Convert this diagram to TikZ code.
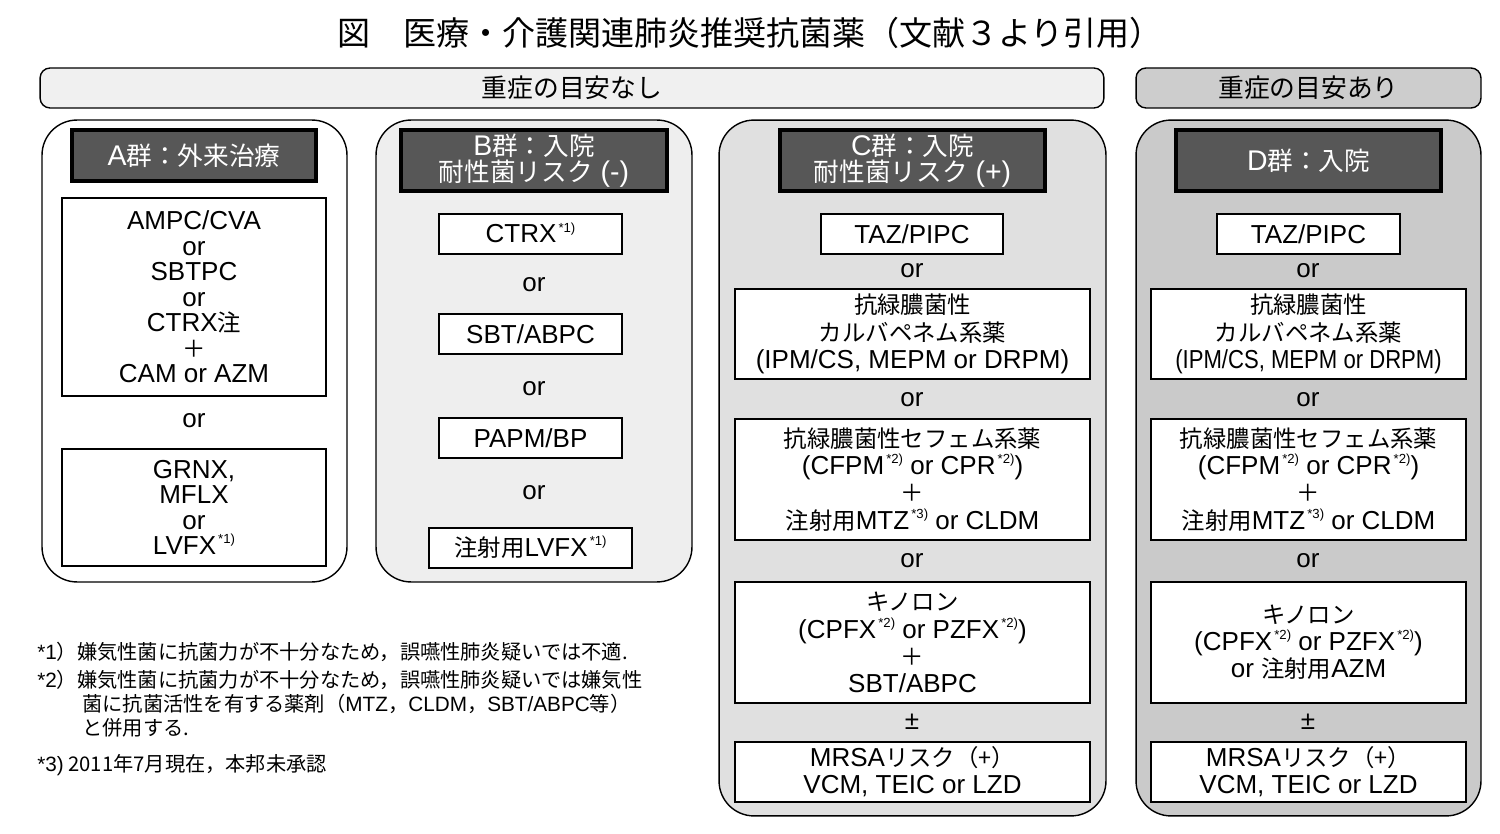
\documentclass[tikz,border=0pt]{standalone}
\usepackage{fontspec}
\usepackage{graphicx}
\setmainfont{Liberation Sans}
\newfontfamily\jp[Scale=0.9]{Noto Sans CJK JP}
\newcommand\J[1]{{\jp #1}}
\newcommand\Lt[1]{{\rmfamily #1}}
\newcommand\sups[1]{\kern0.08em\smash{\raisebox{0.42em}{\fontsize{7.5}{8}\selectfont #1}}}
\definecolor{barA}{HTML}{F0F0F0}
\definecolor{barB}{HTML}{CDCDCD}
\definecolor{grpB}{HTML}{EEEEEE}
\definecolor{grpC}{HTML}{E0E0E0}
\definecolor{grpD}{HTML}{CACACA}
\definecolor{hdrgray}{HTML}{575757}
\tikzset{
  grp/.style={draw=black, line width=0.8pt, rounded corners=0.7cm, inner sep=0pt},
  hdr/.style={draw=black, line width=1.8pt, fill=hdrgray, text=white, align=center, inner sep=0pt,
              font=\fontsize{16.2}{14.8}\selectfont},
  drug/.style={draw=black, line width=0.7pt, fill=white, align=center, inner sep=0pt,
              font=\fontsize{14.8}{15.5}\selectfont},
  drugA/.style={drug, font=\fontsize{14.8}{14.5}\selectfont},
  ortxt/.style={inner sep=0pt, font=\fontsize{14.8}{15}\selectfont},
  bar/.style={draw=black, line width=0.8pt, rounded corners=0.2cm, inner sep=0pt,
              font=\fontsize{16.3}{16}\selectfont},
  note/.style={inner sep=0pt, anchor=west, font=\fontsize{12.8}{13}\selectfont\jp}
}
\begin{document}
\begin{tikzpicture}[x=0.02cm,y=-0.02cm]
\useasboundingbox[fill=white] (0,0) rectangle (1500,834);

% title
\node[inner sep=0pt, font=\fontsize{20.9}{20}\selectfont\jp] (title) at (750,33)
  {図　医療・介護関連肺炎推奨抗菌薬（文献３より引用）};

% top bars
\node[bar, fill=barA, minimum width=21.28cm, minimum height=0.8cm] (bar1) at (572,88) {};
\node[inner sep=0pt, font=\fontsize{16.3}{16}\selectfont\jp] (bar1t) at (572,88) {重症の目安なし};
\node[bar, fill=barB, minimum width=6.9cm, minimum height=0.8cm] (bar2) at (1308.5,88) {};
\node[inner sep=0pt, font=\fontsize{16.3}{16}\selectfont\jp] (bar2t) at (1308.5,88) {重症の目安あり};

% groups
\node[grp, fill=white, minimum width=6.1cm, minimum height=9.24cm] (gA) at (194.5,351) {};
\node[grp, fill=grpB, minimum width=6.32cm, minimum height=9.24cm] (gB) at (534,351) {};
\node[grp, fill=grpC, minimum width=7.74cm, minimum height=13.92cm] (gC) at (912.5,468) {};
\node[grp, fill=grpD, minimum width=6.9cm, minimum height=13.92cm] (gD) at (1308.5,468) {};

% headers
\node[hdr, minimum width=4.88cm, minimum height=1.02cm] (hA) at (194,155.5) {A\J{群：外来治療}};
\node[hdr, minimum width=5.32cm, minimum height=1.22cm] (hB) at (534,160.5) {B\J{群：入院}\\\J{耐性菌リスク} (-)};
\node[hdr, minimum width=5.3cm, minimum height=1.22cm] (hC) at (912.5,160.5) {C\J{群：入院}\\\J{耐性菌リスク} (+)};
\node[hdr, minimum width=5.3cm, minimum height=1.22cm] (hD) at (1308.5,160.5) {D\J{群：入院}};

% group A
\node[drugA, minimum width=5.28cm, minimum height=3.96cm] (a1) at (194,297)
  {AMPC/CVA\\or\\SBTPC\\or\\CTRX\J{注}\\\J{＋}\\CAM or AZM};
\node[ortxt] (orA) at (194,421) {or};
\node[drugA, minimum width=5.28cm, minimum height=2.34cm] (a2) at (194,507.5)
  {GRNX,\\MFLX\\or\\LVFX\sups{*1)}};

% group B
\node[drug, minimum width=3.66cm, minimum height=0.8cm] (b1) at (530.5,234) {CTRX\sups{*1)}};
\node[ortxt] (orB1) at (534,285) {or};
\node[drug, minimum width=3.66cm, minimum height=0.8cm] (b2) at (530.5,334) {SBT/ABPC};
\node[ortxt] (orB2) at (534,389) {or};
\node[drug, minimum width=3.66cm, minimum height=0.8cm] (b3) at (530.5,438) {PAPM/BP};
\node[ortxt] (orB3) at (534,493) {or};
\node[drug, minimum width=4.06cm, minimum height=0.8cm] (b4) at (530.5,548) {\J{注射用}LVFX\sups{*1)}};

% group C
\node[drug, minimum width=3.64cm, minimum height=0.8cm] (c1) at (912,234) {TAZ/PIPC};
\node[ortxt] (orC1) at (912,271) {or};
\node[drug, minimum width=7.1cm, minimum height=1.8cm] (c2) at (912.5,334)
  {\J{抗緑膿菌性}\\\J{カルバペネム系薬}\\(IPM/CS, MEPM or DRPM)};
\node[ortxt] (orC2) at (912,400) {or};
\node[drug, minimum width=7.1cm, minimum height=2.42cm] (c3) at (912.5,479.5)
  {\J{抗緑膿菌性セフェム系薬}\\(CFPM\sups{*2)} or CPR\sups{*2)})\\\J{＋}\\\J{注射用}MTZ\sups{*3)} or CLDM};
\node[ortxt] (orC3) at (912,561) {or};
\node[drug, minimum width=7.1cm, minimum height=2.42cm] (c4) at (912.5,642.5)
  {\J{キノロン}\\(CPFX\sups{*2)} or PZFX\sups{*2)})\\\J{＋}\\SBT/ABPC};
\node[ortxt] (pmC) at (912,722) {±};
\node[drug, minimum width=7.1cm, minimum height=1.2cm] (c5) at (912.5,772)
  {MRSA\J{リスク（+）}\\VCM, TEIC or LZD};

% group D
\node[drug, minimum width=3.66cm, minimum height=0.8cm] (d1) at (1308.5,234) {TAZ/PIPC};
\node[ortxt] (orD1) at (1308,271) {or};
\node[drug, minimum width=6.3cm, minimum height=1.8cm] (d2) at (1308.5,334)
  {\J{抗緑膿菌性}\\\J{カルバペネム系薬}\\\scalebox{0.85}[1]{(IPM/CS, MEPM or DRPM)}};
\node[ortxt] (orD2) at (1308,400) {or};
\node[drug, minimum width=6.3cm, minimum height=2.42cm] (d3) at (1308.5,479.5)
  {\J{抗緑膿菌性セフェム系薬}\\(CFPM\sups{*2)} or CPR\sups{*2)})\\\J{＋}\\\J{注射用}MTZ\sups{*3)} or CLDM};
\node[ortxt] (orD3) at (1308,561) {or};
\node[drug, minimum width=6.3cm, minimum height=2.42cm] (d4) at (1308.5,642.5)
  {\J{キノロン}\\(CPFX\sups{*2)} or PZFX\sups{*2)})\\or \J{注射用}AZM};
\node[ortxt] (pmD) at (1308,722) {±};
\node[drug, minimum width=6.3cm, minimum height=1.2cm] (d5) at (1308.5,772)
  {MRSA\J{リスク（+）}\\VCM, TEIC or LZD};

% footnotes
\node[note] (n1) at (37,652) {\Lt{\fontsize{11.8}{12}\selectfont *1}）嫌気性菌に抗菌力が不十分なため，誤嚥性肺炎疑いでは不適.};
\node[note] (n2) at (37,680) {\Lt{\fontsize{11.8}{12}\selectfont *2}）嫌気性菌に抗菌力が不十分なため，誤嚥性肺炎疑いでは嫌気性};
\node[note] (n3) at (82,704) {菌に抗菌活性を有する薬剤（\Lt{\fontsize{11.8}{12}\selectfont MTZ}，\Lt{\fontsize{11.8}{12}\selectfont CLDM}，\Lt{\fontsize{11.8}{12}\selectfont SBT/ABPC}等）};
\node[note] (n4) at (82,728) {と併用する.};
\node[note] (n5) at (37,765) {\Lt{\fontsize{11.8}{12}\selectfont *3)} 2011年7月現在，本邦未承認};
\end{tikzpicture}
\end{document}
